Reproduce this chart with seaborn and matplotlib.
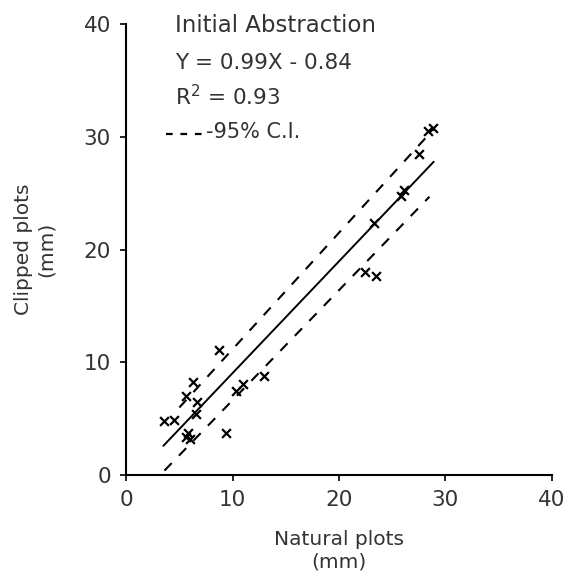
import matplotlib
matplotlib.use("Agg")
import matplotlib.pyplot as plt
import seaborn as sns
import pandas as pd

# Observed points (Natural plots vs Clipped plots, mm)
natural = [3.6, 4.5, 5.6, 6.3, 8.7, 6.7, 6.6, 5.85, 5.6, 6.0, 9.4, 10.3, 10.96, 13.0,
           22.4, 23.5, 23.3, 25.8, 26.1, 27.5, 28.4, 28.8]
clipped = [4.8, 4.9, 7.0, 8.3, 11.1, 6.5, 5.4, 3.75, 3.4, 3.2, 3.75, 7.5, 8.1, 8.8,
           18.0, 17.7, 22.4, 24.8, 25.3, 28.5, 30.5, 30.8]

# Regression line Y = 0.99X - 0.84 (end points)
fit_x = [3.5, 28.9]
fit_y = [2.6, 27.8]

# 95% confidence limits (end points)
upper_x = [5.0, 28.9]
upper_y = [6.0, 30.7]
lower_x = [3.6, 28.5]
lower_y = [0.4, 24.7]

xticks = [0, 10, 20, 30, 40]
yticks = [0, 10, 20, 30, 40]

sns.set_style("ticks")
plt.rcParams['font.family'] = ['DejaVu Sans']

fig = plt.figure(figsize=(5.76, 5.78), dpi=100)
ax = fig.add_axes([0.219, 0.178, 0.739, 0.78])

pts = pd.DataFrame({"x": natural, "y": clipped})
sns.scatterplot(data=pts, x="x", y="y", marker="x", s=40, color="black",
                linewidth=1.6, ax=ax, zorder=3)
sns.lineplot(x=fit_x, y=fit_y, color="black", linewidth=1.4, ax=ax)
sns.lineplot(x=upper_x, y=upper_y, color="black", linewidth=1.5, ax=ax,
             linestyle=(0, (5, 5)))
sns.lineplot(x=lower_x, y=lower_y, color="black", linewidth=1.5, ax=ax,
             linestyle=(0, (5, 5)))

ax.set_xlim(0, 40)
ax.set_ylim(0, 40)
ax.set_xticks(xticks)
ax.set_yticks(yticks)
ax.tick_params(axis="both", direction="out", length=4, width=1.2, colors="black",
               labelsize=15.5, labelcolor="#333333", pad=7)
for side in ["top", "right"]:
    ax.spines[side].set_visible(False)
for side in ["left", "bottom"]:
    ax.spines[side].set_linewidth(1.5)
    ax.spines[side].set_color("black")

ax.set_xlabel("Natural plots\n(mm)", fontsize=14.5, color="#333333", labelpad=14,
              linespacing=1.25)
ax.set_ylabel("Clipped plots\n(mm)", fontsize=14.5, color="#333333", labelpad=20,
              linespacing=1.25)

ax.text(4.6, 39.9, "Initial Abstraction", fontsize=16.5, color="#333333",
        va="center", ha="left")
ax.text(4.6, 36.6, "Y = 0.99X - 0.84", fontsize=15.5, color="#333333",
        va="center", ha="left")
ax.text(4.6, 33.6, r"R$^2$ = 0.93", fontsize=15.5, color="#333333",
        va="center", ha="left")
ax.plot([3.7, 7.6], [30.3, 30.3], color="black", linewidth=1.6,
        linestyle=(0, (3, 3.5)))
ax.text(7.5, 30.4, "-95% C.I.", fontsize=15, color="#333333",
        va="center", ha="left")

fig.savefig("out.png", dpi=100)
